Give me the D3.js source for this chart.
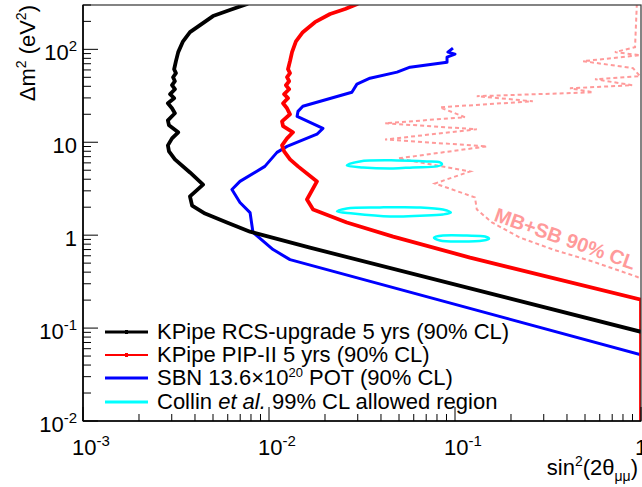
<!DOCTYPE html>
<html>
<head>
<meta charset="utf-8">
<script src="https://cdn.jsdelivr.net/npm/d3@7"></script>
<style>
  html, body { margin: 0; padding: 0; background: #fff; }
  svg { display: block; font-family: "Liberation Sans", Arial, Helvetica, sans-serif; }
</style>
</head>
<body>
<svg id="chart" width="642" height="487"></svg>
<script>
// ---------------- DATA (sin^2(2θ), Δm^2 [eV^2]) ----------------
const kpipeRCS_x = [0.00771,0.00616,0.0050,0.00426,0.00376,0.00345,0.00325,0.00316,0.00309,0.00316,0.00305,0.00312,0.00301,0.00312,0.00294,0.00309,0.00286,0.00301,0.00312,0.00286,0.0029,0.00325,0.00301,0.00286,0.0029,0.00312,0.00376,0.00442,0.00376,0.00386,0.00453,0.00594,0.00791,0.0166,1.0];
const kpipeRCS_y = [310,265,228,182,153,122,93.3,74.6,61.1,55.4,50.1,45.4,41.1,37.2,32.9,29.8,26.3,23.2,20.5,17.2,15.2,12.8,11.0,9.26,7.98,6.54,4.73,3.5,2.61,2.08,1.71,1.37,1.09,0.734,0.0912];

const kpipePIP_x = [0.0301,0.02566,0.0213,0.01766,0.0152,0.01396,0.0133,0.01297,0.01265,0.01297,0.0125,0.01283,0.01233,0.01283,0.01206,0.01265,0.0119,0.0125,0.01297,0.01175,0.0119,0.01346,0.0125,0.01175,0.01206,0.01297,0.01432,0.01811,0.016,0.01726,0.0262,0.0465,0.1205,1.0,1.0];
const kpipePIP_y = [310,272,240,196,153,122,93.3,74.6,61.1,55.4,50.1,45.4,41.1,37.2,32.9,29.8,26.3,23.2,20.0,16.8,14.9,12.8,11.0,9.26,7.98,6.54,5.5,3.79,2.42,1.89,1.37,0.966,0.573,0.2018,0.005];

const sbn_x = [0.0975,0.0916,0.1,0.0906,0.0906,0.0573,0.0488,0.0349,0.0297,0.0279,0.0152,0.01432,0.01416,0.0195,0.01811,0.0125,0.01104,0.0095,0.00698,0.00632,0.00698,0.00791,0.0082,0.01052,0.01297,1.0];
const sbn_y = [103,93.3,88.8,82.4,72.8,64.3,56.8,48.9,42.2,34.5,24.4,21.5,19.0,14.1,12.2,9.03,7.78,5.5,3.79,3.10,2.25,1.75,1.07,0.70,0.546,0.0515];

const mbsb_x = [0.950,0.929,0.724,0.989,0.488,0.906,0.989,0.566,0.896,0.415,0.552,0.131,0.262,0.083,0.113,0.0421,0.131,0.0421,0.1486,0.0494,0.1205,0.078,0.128,0.131,0.158,0.2234,0.3365,0.552,0.950,1.0];
const mbsb_y = [310,105.6,93.3,86.5,74.6,62.7,51.4,47.7,41.1,38.1,34.5,31.3,27.6,23.8,18.6,16.0,13.8,10.7,9.03,6.70,4.85,3.60,2.55,1.89,1.37,0.942,0.70,0.519,0.357,0.340];

const collin1_x = [0.0262,0.0308,0.0488,0.0706,0.083,0.0851,0.080,0.0594,0.0465,0.032];
const collin1_y = [5.63,6.22,6.38,6.22,6.07,5.78,5.50,5.36,5.23,5.36];
const collin2_x = [0.0232,0.0262,0.0395,0.0649,0.0861,0.095,0.0861,0.0649,0.0448,0.0283];
const collin2_y = [1.80,1.94,1.99,1.99,1.89,1.75,1.67,1.62,1.59,1.71];
const collin3_x = [0.0771,0.0861,0.116,0.145,0.1524,0.1416,0.1064,0.083];
const collin3_y = [0.942,0.99,0.99,0.966,0.918,0.875,0.853,0.875];

const xTickValues = [0.001, 0.01, 0.1, 1];
const xTickLabels = [["10","-3"],["10","-2"],["10","-1"],["1",""]];
const yTickValues = [0.01, 0.1, 1, 10, 100];
const yTickLabels = [["10","-2"],["10","-1"],["1",""],["10",""],["10","2"]];

const legendLabels = ["KPipe RCS-upgrade 5 yrs (90% CL)", "KPipe PIP-II 5 yrs (90% CL)", "SBN 13.6×10|20| POT (90% CL)", "Collin |et al.| 99% CL allowed region"];
const legendColors = ["#000000", "#ff0000", "#0000ff", "#00ffff"];

// ---------------- CHART ----------------
const svg = d3.select("#chart");
const W = 642, H = 487;
const m = {left: 83, right: 1, top: 5, bottom: 66};
const x = d3.scaleLog().domain([1e-3, 1]).range([m.left, W - m.right]);
const y = d3.scaleLog().domain([1e-2, 300]).range([H - m.bottom, m.top]);
const x0 = x.range()[0], x1 = x.range()[1], y0 = y.range()[0], y1 = y.range()[1];

svg.append("defs").append("clipPath").attr("id", "clip")
  .append("rect").attr("x", x0).attr("y", y1).attr("width", x1 - x0).attr("height", y0 - y1);

const zip = (xs, ys) => xs.map((v, i) => [v, ys[i]]);
const line = d3.line().x(d => x(d[0])).y(d => y(d[1]));
const closed = d3.line().x(d => x(d[0])).y(d => y(d[1])).curve(d3.curveCatmullRomClosed.alpha(0.5));

const plot = svg.append("g").attr("clip-path", "url(#clip)");

// MB+SB
plot.append("path").attr("d", line(zip(mbsb_x, mbsb_y)))
  .attr("fill", "none").attr("stroke", "#ff9a9a").attr("stroke-width", 2)
  .attr("stroke-dasharray", "4,3");

// Collin contours
[[collin1_x, collin1_y], [collin2_x, collin2_y], [collin3_x, collin3_y]].forEach(([cx, cy]) => {
  plot.append("path").attr("d", closed(zip(cx, cy)))
    .attr("fill", "none").attr("stroke", "#00ffff").attr("stroke-width", 2.5);
});

plot.append("path").attr("d", line(zip(sbn_x, sbn_y)))
  .attr("fill", "none").attr("stroke", "#0000ff").attr("stroke-width", 3).attr("stroke-linejoin", "round");
plot.append("path").attr("d", line(zip(kpipePIP_x, kpipePIP_y)))
  .attr("fill", "none").attr("stroke", "#ff0000").attr("stroke-width", 3.8).attr("stroke-linejoin", "round");
plot.append("path").attr("d", line(zip(kpipeRCS_x, kpipeRCS_y)))
  .attr("fill", "none").attr("stroke", "#000000").attr("stroke-width", 3.8).attr("stroke-linejoin", "round");

// MB+SB label
svg.append("text")
  .attr("transform", `translate(${x(0.16)},${y(1.44)}) rotate(19.5)`)
  .attr("fill", "#ff9a9a").attr("font-weight", "bold").attr("font-size", 20)
  .text("MB+SB 90% CL");

// Frame
svg.append("rect").attr("x", x0).attr("y", y1).attr("width", x1 - x0).attr("height", y0 - y1)
  .attr("fill", "none").attr("stroke", "#333").attr("stroke-width", 1.2);
svg.append("line").attr("x1", x0).attr("x2", x0).attr("y1", y1).attr("y2", y0).attr("stroke", "#000").attr("stroke-width", 1.6);
svg.append("line").attr("x1", x0).attr("x2", x1).attr("y1", y0).attr("y2", y0).attr("stroke", "#000").attr("stroke-width", 1.6);

// Ticks
const isMajor = v => Math.abs(Math.log10(v) - Math.round(Math.log10(v))) < 1e-6;
const ax = svg.append("g");
x.ticks().forEach(v => {
  const L = isMajor(v) ? 14 : 7;
  ax.append("line").attr("x1", x(v)).attr("x2", x(v)).attr("y1", y0).attr("y2", y0 - L).attr("stroke", "#000").attr("stroke-width", 1);
});
y.ticks().forEach(v => {
  if (v > 300) return;
  const L = isMajor(v) ? 15 : 8;
  ax.append("line").attr("y1", y(v)).attr("y2", y(v)).attr("x1", x0).attr("x2", x0 + L).attr("stroke", "#000").attr("stroke-width", 1);
});

function supLabel(g, base, sup, attrs) {
  const t = g.append("text");
  Object.entries(attrs).forEach(([k, v]) => t.attr(k, v));
  t.append("tspan").text(base);
  if (sup) t.append("tspan").attr("dy", -9).attr("font-size", 15).text(sup);
  return t;
}
xTickValues.forEach((v, i) => {
  supLabel(svg, xTickLabels[i][0], xTickLabels[i][1], {x: x(v) + (xTickLabels[i][1] ? 8 : 0), y: 455, "text-anchor": "middle", "font-size": 22});
});
yTickValues.forEach((v, i) => {
  supLabel(svg, yTickLabels[i][0], yTickLabels[i][1], {x: 77, y: y(v) + 11, "text-anchor": "end", "font-size": 22});
});

// Axis titles
const xt = svg.append("text").attr("x", 638).attr("y", 475).attr("text-anchor", "end").attr("font-size", 22);
xt.append("tspan").text("sin");
xt.append("tspan").attr("dy", -9).attr("font-size", 14).text("2");
xt.append("tspan").attr("dy", 9).text("(2θ");
xt.append("tspan").attr("dy", 6).attr("font-size", 14).text("μμ");
xt.append("tspan").attr("dy", -6).text(")");

const yt = svg.append("text").attr("transform", `translate(35,${y1}) rotate(-90)`).attr("text-anchor", "end").attr("font-size", 22);
yt.append("tspan").text("Δm");
yt.append("tspan").attr("dy", -9).attr("font-size", 14).text("2");
yt.append("tspan").attr("dy", 9).text(" (eV");
yt.append("tspan").attr("dy", -9).attr("font-size", 14).text("2");
yt.append("tspan").attr("dy", 9).text(")");

// Legend
const lg = svg.append("g");
const rowY = [332, 355, 378, 402];
legendLabels.forEach((lab, i) => {
  lg.append("line").attr("x1", 105).attr("x2", 148).attr("y1", rowY[i]).attr("y2", rowY[i])
    .attr("stroke", legendColors[i]).attr("stroke-width", i === 1 ? 2.2 : 3);
  if (i < 2) lg.append("rect").attr("x", 125).attr("y", rowY[i] - 2).attr("width", 3).attr("height", 4).attr("fill", legendColors[i]);
  const t = lg.append("text").attr("x", 157).attr("y", rowY[i] + 7).attr("font-size", 22);
  const parts = lab.split("|");
  parts.forEach((p, j) => {
    if (i === 2 && j === 1) t.append("tspan").attr("dy", -8).attr("font-size", 13).text(p);
    else if (i === 2 && j === 2) t.append("tspan").attr("dy", 8).text(p);
    else if (i === 3 && j === 1) t.append("tspan").attr("font-style", "italic").text(p);
    else t.append("tspan").text(p);
  });
});
</script>
</body>
</html>
